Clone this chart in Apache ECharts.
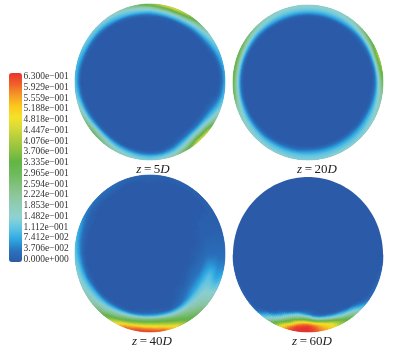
<!DOCTYPE html>
<html><head><meta charset="utf-8">
<style>html,body{margin:0;padding:0;background:#fff}#c{width:395px;height:349px}</style>
<script src="https://cdn.jsdelivr.net/npm/echarts@6/dist/echarts.min.js"></script>
</head><body><div id="c"></div>
<script>
// legend, top to bottom
const legendLabels = ['6.300e\u2212001','5.929e\u2212001','5.559e\u2212001','5.188e\u2212001','4.818e\u2212001','4.447e\u2212001','4.076e\u2212001','3.706e\u2212001','3.335e\u2212001','2.965e\u2212001','2.594e\u2212001','2.224e\u2212001','1.853e\u2212001','1.482e\u2212001','1.112e\u2212001','7.412e\u2212002','3.706e\u2212002','0.000e+000'];
const palette = ['#2b5ba8','#2b72bc','#2ea6e2','#5cc4e4','#8ed2d2','#90cdb8','#8cc79a','#80c07a','#6eba5a','#62b544','#8cc140','#aecb3e','#d4d93a','#f5e22a','#fcc81c','#f59a25','#f0602a','#e8332f'];
const valueMax = 0.63;

// every panel: angle of each column (degrees clockwise from top), ring radii, values per ring
const deg10 = [0,10,20,30,40,50,60,70,80,90,100,110,120,130,140,150,160,170,180,190,200,210,220,230,240,250,260,270,280,290,300,310,320,330,340,350];

const z5Rings = [0.78,0.84,0.88,0.92,0.96,1.00];
const z5Values = [
 [0,0,0,0,0,0,0,0,0,0,0,0,0,0,0,0,0,0,0,0,0,0,0,0,0,0,0,0,0,0,0,0,0,0,0,0],
 [.01,.01,.01,.01,0,0,0,0,0,0,0,.01,.03,.04,.05,.03,0,0,0,0,0,0,0,0,0,0,0,0,0,0,0,0,0,0,0,0],
 [.06,.08,.09,.08,.05,.03,.01,0,0,0,0,.03,.07,.11,.12,.08,.03,0,0,0,0,.01,.02,.02,.01,0,0,0,0,0,0,0,0,.01,.03,.05],
 [.13,.15,.16,.15,.12,.09,.05,.01,0,0,.01,.06,.12,.18,.20,.14,.08,.04,.03,.04,.06,.08,.11,.11,.07,.04,.01,0,0,.01,.02,.03,.05,.08,.10,.12],
 [.20,.28,.32,.28,.18,.14,.10,.06,.03,.03,.05,.10,.17,.30,.33,.21,.14,.11,.10,.11,.13,.15,.18,.20,.16,.12,.08,.05,.05,.07,.09,.10,.11,.12,.14,.16],
 [.38,.45,.47,.42,.30,.18,.13,.10,.08,.08,.10,.14,.24,.45,.47,.33,.20,.16,.14,.15,.17,.20,.27,.30,.25,.18,.13,.11,.10,.11,.13,.14,.15,.17,.20,.28]
];

const z20Rings = [0.82,0.86,0.90,0.94,0.97,1.00];
const z20Values = [
 [0,0,0,0,0,0,0,0,0,0,0,0,0,0,0,0,0,0,0,0,0,0,0,0,0,0,0,0,0,0,0,0,0,0,0,0],
 [.01,.01,.01,.01,.01,.01,.01,0,0,0,.01,.01,.02,.02,.03,.03,.03,.03,.03,.02,.02,.01,.01,.01,0,0,0,0,0,0,0,0,0,.01,.01,.01],
 [.07,.07,.07,.07,.06,.05,.05,.05,.04,.04,.05,.06,.07,.07,.07,.07,.07,.07,.07,.06,.06,.06,.05,.05,.05,.05,.04,.04,.04,.04,.05,.05,.06,.07,.07,.07],
 [.12,.12,.12,.12,.13,.14,.15,.17,.16,.14,.13,.12,.12,.11,.11,.11,.11,.11,.11,.11,.11,.11,.11,.12,.12,.13,.14,.15,.15,.15,.14,.13,.13,.12,.12,.12],
 [.14,.14,.14,.15,.16,.20,.24,.30,.27,.22,.17,.15,.14,.14,.13,.13,.13,.13,.13,.13,.13,.13,.14,.14,.15,.16,.21,.23,.24,.24,.22,.18,.16,.15,.14,.14],
 [.16,.16,.16,.17,.20,.28,.34,.43,.38,.30,.22,.18,.16,.15,.15,.15,.15,.14,.14,.14,.15,.15,.15,.16,.17,.20,.30,.32,.33,.33,.30,.25,.20,.17,.16,.16]
];

const z40Rings = [0.50,0.60,0.70,0.76,0.80,0.84,0.88,0.92,0.96,1.00];
const z40Values = [
 [0,0,0,0,0,0,0,0,0,0,0,0,0,0,0,0,0,0,0,0,0,0,0,0,0,0,0,0,0,0,0,0,0,0,0,0],
 [0,0,0,0,0,0,0,0,0,.01,.01,.02,.02,.01,.01,0,0,0,0,0,0,0,0,0,0,0,0,0,0,0,0,0,0,0,0,0],
 [0,0,0,0,0,0,0,.01,.01,.02,.03,.04,.05,.05,.03,.01,0,0,0,0,0,0,0,0,0,0,0,0,0,0,0,0,0,0,0,0],
 [0,0,0,0,0,0,.01,.01,.02,.03,.05,.07,.08,.08,.06,.03,.01,.02,.02,.01,0,0,0,0,0,0,0,0,0,0,0,0,0,0,0,0],
 [0,0,0,0,0,0,.01,.01,.02,.03,.06,.09,.11,.12,.11,.09,.08,.09,.09,.07,.04,.02,.01,0,0,0,0,0,0,0,0,0,0,0,0,0],
 [0,0,0,0,0,0,.01,.01,.02,.03,.06,.11,.13,.14,.15,.16,.18,.24,.25,.22,.16,.10,.06,.03,.01,.01,0,0,0,0,0,0,0,0,0,0],
 [0,0,0,0,0,0,.01,.01,.02,.03,.06,.10,.14,.16,.19,.23,.28,.33,.35,.33,.27,.19,.13,.10,.07,.03,.02,.01,.01,.01,.01,0,0,0,0,0],
 [.01,0,0,0,0,0,.01,.01,.02,.03,.05,.08,.14,.18,.22,.27,.34,.42,.46,.44,.36,.26,.18,.14,.12,.09,.06,.04,.03,.02,.01,.01,.01,.01,0,0],
 [.01,.01,.01,.01,.01,.01,.01,.01,.02,.03,.05,.08,.14,.19,.25,.31,.42,.52,.56,.56,.50,.36,.24,.18,.15,.13,.11,.08,.06,.05,.03,.02,.02,.02,.01,.01],
 [.02,.01,.01,.01,.01,.01,.01,.01,.02,.03,.05,.10,.15,.21,.28,.35,.50,.60,.62,.62,.58,.45,.30,.22,.18,.16,.14,.12,.10,.08,.05,.04,.03,.03,.02,.02]
];

const z60Angles = [0,90,125,130,135,140,145,150,155,160,165,170,175,180,185,190,195,200,205,210,215,220,225,270];
const z60Rings = [0.70,0.74,0.78,0.81,0.84,0.87,0.90,0.93,0.96,1.00];
const z60Values = [
 [0,0, 0,0,0,0,0,0,0,0,0,0,0,0,0,0,0,0,0,0,0,0, 0,0],
 [0,0, 0,0,0,0,0,0,0,0,0,0,.01,.02,.02,.01,0,0,0,0,0,0, 0,0],
 [0,0, 0,0,0,0,0,0,0,0,0,.01,.02,.06,.09,.11,.06,.01,0,0,0,0, 0,0],
 [0,0, 0,0,0,0,0,0,0,.01,.02,.04,.08,.18,.21,.20,.14,.07,.02,0,0,0, 0,0],
 [0,0, 0,0,0,0,0,.01,.03,.06,.09,.13,.22,.30,.31,.26,.22,.14,.06,.01,0,0, 0,0],
 [0,0, 0,0,0,0,.03,.07,.10,.14,.22,.28,.35,.42,.44,.40,.30,.20,.10,.03,0,0, 0,0],
 [0,0, 0,0,.01,.06,.09,.12,.19,.26,.36,.44,.50,.56,.56,.50,.38,.28,.16,.08,.01,0, 0,0],
 [0,0, 0,.01,.05,.10,.15,.20,.30,.40,.47,.52,.58,.62,.61,.58,.47,.35,.22,.12,.07,.01, 0,0],
 [0,0, .01,.03,.08,.16,.23,.30,.38,.47,.51,.55,.60,.63,.63,.62,.56,.46,.32,.18,.10,.03, 0,0],
 [0,0, .03,.07,.14,.22,.29,.36,.42,.48,.53,.57,.61,.63,.63,.63,.60,.52,.40,.28,.15,.08, .02,0]
];

const panels = [
 {angles:deg10, rings:z5Rings, values:z5Values, box:[75,4,150,156], title:['5',150,158]},
 {angles:deg10, rings:z20Rings, values:z20Values, box:[233,5,150,155], title:['20',314,158]},
 {angles:deg10, rings:z40Rings, values:z40Values, box:[75,175,150,157], title:['40',149,330]},
 {angles:z60Angles, rings:z60Rings, values:z60Values, box:[233,177,150,155], title:['60',309,330]}
];

function colorOf(v){ return echarts.color.lerp(Math.min(1,Math.max(0,v/valueMax)), palette); }

function makeRender(p){
  const rs = p.rings;
  const nA = p.angles.length;
  return function(params, api){
    const i = api.value(0), j = api.value(1);   // node index; the cell runs from ring j-1 to ring j
    const pt = (a,r)=>{ const t=a*Math.PI/180; return api.coord([r*Math.sin(t), r*Math.cos(t)]); };
    const children = [];
    if(i===0 && j===0){   // the deep blue body of the section
      const pts=[]; for(let a=0;a<360;a+=2) pts.push(pt(a,1));
      children.push({type:'polygon',silent:true,shape:{points:pts},style:{fill:palette[0]}});
      return {type:'group',children};
    }
    if(j===0) return null;
    const i2 = (i+1)%nA;
    const a0 = p.angles[i], a1 = i2===0 ? 360 : p.angles[i2];
    const r0 = rs[j-1], r1 = rs[j];
    const v00=p.values[j-1][i], v10=p.values[j-1][i2], v01=p.values[j][i], v11=p.values[j][i2];
    if(v00===0 && v10===0 && v01===0 && v11===0) return null;
    const sa = Math.max(2,Math.round((a1-a0)/2));
    const sr = 4;
    for(let m=0;m<sa;m++) for(let n=0;n<sr;n++){
      const u0=m/sa,u1=(m+1)/sa,w0=n/sr,w1=(n+1)/sr;
      const A0=a0+(a1-a0)*u0,A1=a0+(a1-a0)*u1,R0=r0+(r1-r0)*w0,R1=r0+(r1-r0)*w1;
      const um=(u0+u1)/2,wm=(w0+w1)/2;
      const v=(v00*(1-um)+v10*um)*(1-wm)+(v01*(1-um)+v11*um)*wm;
      const c=colorOf(v);
      children.push({type:'polygon',silent:true,shape:{points:[pt(A0,R0),pt(A1,R0),pt(A1,R1),pt(A0,R1)]},
        style:{fill:c,stroke:c,lineWidth:0.6}});
    }
    return {type:'group',children};
  };
}

const grids=[],xAxes=[],yAxes=[],series=[],titles=[];
const hiddenAxis={type:'value',min:-1,max:1,show:false};
const textBase={fontFamily:'Liberation Serif',fontSize:13,fontWeight:'normal',color:'#222'};
panels.forEach((p,k)=>{
  grids.push({left:p.box[0],top:p.box[1],width:p.box[2],height:p.box[3]});
  xAxes.push(Object.assign({gridIndex:k},hiddenAxis));
  yAxes.push(Object.assign({gridIndex:k},hiddenAxis));
  const data=[];
  p.angles.forEach((a,i)=>{ p.rings.forEach((r,j)=>data.push([i,j,p.values[j][i]])); });
  series.push({type:'custom',coordinateSystem:'cartesian2d',xAxisIndex:k,yAxisIndex:k,data,
    renderItem:makeRender(p),animation:false,silent:true,clip:false,progressive:0,encode:{x:[],y:[]}});
  titles.push({text:'{i|z}{n|\u2009=\u2009'+p.title[0]+'}{i|D}',left:p.title[1]-2,top:p.title[2],textAlign:'center',
    textStyle:Object.assign({},textBase,{rich:{
      i:Object.assign({},textBase,{fontStyle:'italic'}),
      n:Object.assign({},textBase)}})});
});
// legend labels
grids.push({left:9,top:76.7,width:13,height:182.7});
xAxes.push({gridIndex:4,type:'value',show:false});
yAxes.push({gridIndex:4,type:'category',inverse:true,boundaryGap:false,position:'right',data:legendLabels,
  axisLine:{show:false},axisTick:{show:false},splitLine:{show:false},
  axisLabel:{interval:0,margin:1.5,fontFamily:'Liberation Serif',fontSize:9.5,color:'#333',align:'left'}});

const chart=echarts.init(document.getElementById('c'),null,{renderer:'canvas'});
chart.setOption({
  animation:false,backgroundColor:'#fff',
  title:titles,grid:grids,xAxis:xAxes,yAxis:yAxes,series,
  visualMap:{type:'continuous',min:0,max:valueMax,seriesIndex:[],left:9,top:73,itemWidth:13,itemHeight:189,
    padding:0,calculable:false,realtime:false,hoverLink:false,showLabel:false,text:null,inRange:{color:palette}}
});
</script></body></html>
